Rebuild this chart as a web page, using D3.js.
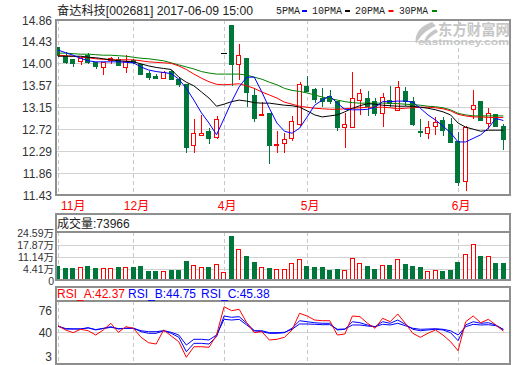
<!DOCTYPE html>
<html>
<head>
<meta charset="utf-8">
<script src="https://cdn.jsdelivr.net/npm/d3@7"></script>
<style>
  body { margin: 0; background: #fff; }
  svg { display: block; font-family: "Liberation Sans", Arial, "Noto Sans CJK SC", sans-serif; }
</style>
</head>
<body>
<div id="chart"></div>
<script>
// daily bars, 60 trading days up to 2017-06-09
const open  = [14.33,14.14,14.08,14.05,14.16,14.02,13.93,14.06,14.09,13.93,14.06,13.98,13.82,13.75,13.72,13.85,13.70,13.59,12.40,12.59,12.67,12.56,14.20,14.76,13.99,14.10,13.39,13.00,13.02,12.40,12.44,12.54,12.82,13.55,13.49,13.33,13.36,13.26,12.75,12.75,13.29,13.33,13.26,13.03,13.29,13.09,13.46,13.27,12.68,12.64,12.77,12.90,12.82,12.48,11.69,13.11,13.27,12.84,13.00,12.77];
const close = [14.17,14.02,14.00,14.10,14.03,13.95,14.02,14.10,13.97,14.04,14.02,13.80,13.74,13.72,13.84,13.70,13.59,12.36,12.64,12.64,12.53,12.91,14.20,13.98,14.17,13.44,12.92,13.01,12.40,12.42,12.51,12.88,13.59,13.46,13.31,13.27,13.27,12.75,12.81,13.33,13.41,13.16,13.03,13.34,13.23,13.54,13.26,12.82,12.67,12.76,12.85,12.69,12.46,11.67,12.76,13.19,12.89,13.03,12.78,12.52];
const high  = [14.33,14.24,14.08,14.13,14.21,14.04,14.04,14.14,14.13,14.17,14.09,14.00,13.86,13.81,13.87,13.88,13.74,13.59,12.92,13.00,12.74,12.98,14.20,14.76,14.38,14.10,13.52,13.26,13.04,12.69,12.64,12.97,13.65,13.76,13.53,13.52,13.49,13.27,13.03,13.85,13.50,13.47,13.33,13.42,13.57,13.66,13.55,13.36,12.92,12.88,12.96,12.96,12.94,12.67,12.78,13.49,13.27,13.13,13.01,12.83];
const low   = [14.13,13.99,13.93,13.98,13.99,13.90,13.79,13.99,13.95,13.82,13.99,13.78,13.68,13.70,13.70,13.68,13.55,12.25,12.25,12.59,12.42,12.52,14.20,13.57,13.68,13.15,12.87,12.97,12.03,12.26,12.26,12.49,12.78,13.46,13.23,13.16,13.21,12.69,12.36,12.75,13.00,12.98,12.98,12.76,13.15,13.08,13.18,12.78,12.57,12.52,12.61,12.59,12.46,11.61,11.51,12.91,12.89,12.72,12.78,12.31];
// volume, in 万 (10k shares)
const volume = [5.76,4.86,4.86,5.42,5.59,4.86,4.86,4.86,5.03,5.42,5.03,5.59,3.35,3.35,3.35,3.52,3.91,8.94,6.15,5.03,5.03,7.10,2.24,22.53,15.09,11.18,8.38,5.42,4.86,4.30,4.30,7.27,9.89,5.59,5.03,5.03,3.91,4.30,3.91,10.45,7.27,5.59,4.47,6.54,6.15,9.89,6.71,5.59,5.03,3.35,3.91,3.35,3.91,8.38,12.30,17.89,11.18,11.18,7.40,7.3966];

const ma5  = [14.27,14.22,14.17,14.11,14.06,14.04,14.04,14.04,14.04,14.03,14.02,13.94,13.88,13.85,13.83,13.81,13.70,13.52,13.29,13.04,12.84,12.61,12.93,13.26,13.55,13.74,13.74,13.45,13.13,12.84,12.68,12.64,12.74,12.96,13.19,13.29,13.37,13.23,13.11,13.10,13.10,13.11,13.15,13.26,13.26,13.27,13.27,13.25,13.13,13.00,12.90,12.78,12.65,12.47,12.47,12.54,12.61,12.74,12.93,12.89];
const ma10 = [14.15,14.15,14.15,14.15,14.13,14.12,14.10,14.08,14.06,14.05,14.04,14.00,13.96,13.93,13.91,13.89,13.74,13.64,13.57,13.45,13.33,13.17,13.21,13.26,13.29,13.27,13.24,13.23,13.23,13.21,13.19,13.18,13.15,13.08,13.00,12.96,12.98,13.00,13.06,13.13,13.18,13.22,13.21,13.19,13.18,13.17,13.17,13.17,13.15,13.13,13.10,13.06,13.00,12.84,12.76,12.72,12.68,12.70,12.70,12.70];
const ma20 = [14.17,14.16,14.15,14.13,14.12,14.10,14.09,14.08,14.08,14.08,14.08,14.06,14.04,14.03,14.02,14.01,13.96,13.89,13.80,13.72,13.65,13.60,13.59,13.60,13.61,13.57,13.52,13.45,13.39,13.33,13.25,13.21,13.17,13.15,13.13,13.12,13.11,13.11,13.12,13.13,13.14,13.15,13.15,13.15,13.14,13.12,13.13,13.14,13.15,13.15,13.14,13.12,13.08,13.01,12.98,12.96,12.96,12.95,12.95,12.95];
const ma30 = [14.21,14.21,14.20,14.19,14.19,14.18,14.17,14.17,14.16,14.15,14.13,14.11,14.10,14.08,14.06,14.02,13.98,13.94,13.90,13.85,13.82,13.80,13.80,13.80,13.80,13.78,13.74,13.70,13.64,13.59,13.52,13.48,13.46,13.43,13.39,13.35,13.32,13.29,13.26,13.24,13.23,13.23,13.23,13.23,13.23,13.22,13.21,13.20,13.19,13.17,13.16,13.14,13.10,13.03,13.00,12.98,12.98,12.98,12.98,12.98];

const rsiA = [51.1,44.3,40.0,45.4,43.1,36.3,44.3,54.9,40.6,49.5,47.0,32.7,24.1,22.0,44.3,34.7,25.7,1.0,17.7,17.7,16.8,36.3,81.2,74.9,77.1,55.8,40.0,41.6,28.4,29.5,32.7,44.3,70.8,66.5,60.1,59.0,59.0,36.3,37.9,66.5,65.4,54.9,47.0,62.8,57.4,69.7,54.9,39.0,32.7,39.0,44.3,36.3,25.7,11.4,57.4,66.5,55.8,61.2,52.2,42.37];
const rsiB = [50.1,45.8,45.8,45.8,47.9,44.3,47.0,49.5,45.8,47.0,47.0,41.6,39.0,39.0,43.1,39.0,32.7,9.8,23.1,23.1,22.0,33.6,66.5,64.4,65.4,54.9,43.1,41.6,39.0,39.0,40.0,47.0,59.0,57.4,55.8,54.9,54.9,44.3,45.4,57.4,55.8,52.2,49.5,57.4,54.9,60.1,53.3,45.4,43.1,44.3,45.4,44.3,40.0,27.3,52.2,57.4,54.9,55.8,52.2,44.75];
const rsiC = [50.5,46.5,46.0,46.0,47.5,45.0,46.5,48.5,46.5,47.0,47.0,43.1,41.6,41.6,43.1,40.6,36.3,20.4,29.5,29.5,28.4,36.3,61.2,60.1,61.2,52.2,43.1,43.1,40.0,40.0,40.6,45.4,53.8,53.8,53.3,52.7,52.7,45.4,45.8,52.2,52.2,50.6,49.5,53.3,52.2,54.9,51.1,47.0,45.4,45.8,46.3,45.4,43.1,36.3,49.5,53.3,52.2,52.7,51.1,45.38];

const priceTicks = [14.86, 14.43, 14.00, 13.57, 13.15, 12.72, 12.29, 11.86, 11.43];
const volTicks = [24.59, 17.87, 11.14, 4.41];
const rsiTicks = [76, 40, 3];
const months = [['11月', 0], ['12月', 10], ['4月', 22], ['5月', 33], ['6月', 53]];
const maSeries = [['30PMA', ma30, '#008000'], ['20PMA', ma20, '#ff0000'], ['10PMA', ma10, '#000000'], ['5PMA', ma5, '#0000ff']];

const RED = '#ff0000', GREEN = '#00773a', FRAME = '#8e8e8e', GRID = '#d2d2d2';
const L = 56, R = 510;
const pm = { t: 20, b: 195 };
const pv = { top: 214, t: 232, b: 280 };
const pr = { top: 287, t: 301, b: 364 };

const svg = d3.select('#chart').append('svg').attr('width', 520).attr('height', 365);

const idx = d3.range(open.length);
const x = d3.scalePoint().domain(idx).range([58, 503.4]);
const y = d3.scaleLinear().domain([11.43, 14.86]).range([pm.b, pm.t]);
const yv = d3.scaleLinear().domain([0, 24.59]).range([277, 233]);
const yr = d3.scaleLinear().domain([3, 76]).range([356, 310]);

// grid
const grid = svg.append('g').attr('shape-rendering', 'crispEdges');
grid.selectAll('.hp').data(priceTicks.slice(1, -1)).enter().append('line')
  .attr('x1', L).attr('x2', R).attr('y1', d => y(d)).attr('y2', d => y(d))
  .attr('stroke', GRID);
grid.selectAll('.hv').data(volTicks.slice(1)).enter().append('line')
  .attr('x1', L).attr('x2', R).attr('y1', d => yv(d)).attr('y2', d => yv(d))
  .attr('stroke', GRID);
grid.append('line').attr('x1', L).attr('x2', R).attr('y1', yr(40)).attr('y2', yr(40)).attr('stroke', GRID);
[[pm.t, pm.b], [pv.t, pv.b], [pr.t, pr.b]].forEach(([t, b]) => {
  grid.selectAll(null).data(months).enter().append('line')
    .attr('x1', d => Math.round(x(d[1])) + 0.5).attr('x2', d => Math.round(x(d[1])) + 0.5)
    .attr('y1', t).attr('y2', b)
    .attr('stroke', '#c8c8c8').attr('stroke-dasharray', '4,3');
});

// candles
const bw = 5.4;
const cg = svg.append('g').attr('shape-rendering', 'crispEdges');
const c = cg.selectAll('g').data(idx).enter().append('g');
c.append('line')
  .attr('x1', i => Math.round(x(i)) + 0.5).attr('x2', i => Math.round(x(i)) + 0.5)
  .attr('y1', i => y(high[i])).attr('y2', i => y(low[i]))
  .attr('stroke', i => close[i] === open[i] ? '#000' : close[i] > open[i] ? RED : GREEN);
c.filter(i => close[i] !== open[i]).append('rect')
  .attr('x', i => Math.round(x(i) - bw / 2) + 0.5)
  .attr('y', i => y(Math.max(open[i], close[i])))
  .attr('width', bw - 1)
  .attr('height', i => Math.max(1, y(Math.min(open[i], close[i])) - y(Math.max(open[i], close[i]))))
  .attr('fill', i => close[i] > open[i] ? '#fff' : GREEN)
  .attr('stroke', i => close[i] > open[i] ? RED : GREEN);
c.filter(i => close[i] === open[i]).append('line')
  .attr('x1', i => x(i) - 3).attr('x2', i => x(i) + 3)
  .attr('y1', i => y(open[i])).attr('y2', i => y(open[i]))
  .attr('stroke', '#000').attr('stroke-width', 1.2);

// moving averages
svg.append('clipPath').attr('id', 'cm').append('rect').attr('x', L).attr('y', pm.t).attr('width', R - L).attr('height', pm.b - pm.t);
const maLine = d3.line().x((d, i) => x(i)).y(d => y(d));
svg.append('g').attr('clip-path', 'url(#cm)').selectAll('path').data(maSeries).enter().append('path')
  .attr('d', d => maLine(d[1])).attr('fill', 'none').attr('stroke', d => d[2]).attr('stroke-width', 1);

// volume bars
svg.append('g').attr('shape-rendering', 'crispEdges').selectAll('rect').data(idx).enter().append('rect')
  .attr('x', i => Math.round(x(i) - bw / 2) + 0.5)
  .attr('y', i => yv(volume[i]))
  .attr('width', bw - 1)
  .attr('height', i => pv.b - yv(volume[i]))
  .attr('fill', i => close[i] >= open[i] ? '#fff' : GREEN)
  .attr('stroke', i => close[i] >= open[i] ? RED : GREEN);

// RSI
svg.append('clipPath').attr('id', 'cr').append('rect').attr('x', L).attr('y', pr.t).attr('width', R - L).attr('height', pr.b - pr.t);
const rLine = d3.line().x((d, i) => x(i)).y(d => yr(d));
svg.append('g').attr('clip-path', 'url(#cr)').selectAll('path')
  .data([[rsiC, '#0000ff'], [rsiB, '#0000ff'], [rsiA, '#ff0000']]).enter().append('path')
  .attr('d', d => rLine(d[0])).attr('fill', 'none').attr('stroke', d => d[1]).attr('stroke-width', 1);

// frames
const fr = svg.append('g').attr('fill', 'none').attr('stroke', FRAME).attr('stroke-width', 1.5).attr('shape-rendering', 'crispEdges');
fr.append('rect').attr('x', L).attr('y', pm.t).attr('width', R - L).attr('height', pm.b - pm.t);
fr.append('rect').attr('x', L).attr('y', pv.top).attr('width', R - L).attr('height', pv.b - pv.top);
fr.append('line').attr('x1', L).attr('x2', R).attr('y1', pv.t).attr('y2', pv.t);
fr.append('rect').attr('x', L).attr('y', pr.top).attr('width', R - L).attr('height', pr.b - pr.top);
fr.append('line').attr('x1', L).attr('x2', R).attr('y1', pr.t).attr('y2', pr.t);

// axis labels
const lab = svg.append('g').attr('fill', '#333').attr('text-anchor', 'end');
lab.selectAll('.p').data(priceTicks).enter().append('text').attr('font-size', 12)
  .attr('x', 52).attr('y', d => y(d) + 4.5).text(d => d.toFixed(2));
lab.selectAll('.v').data(volTicks).enter().append('text').attr('font-size', 10.5)
  .attr('x', 54).attr('y', d => yv(d) + 4).text(d => d.toFixed(2) + '万');
lab.append('text').attr('font-size', 10.5).attr('x', 54).attr('y', pv.b + 5).text('0');
lab.selectAll('.r').data(rsiTicks).enter().append('text').attr('font-size', 12)
  .attr('x', 52).attr('y', d => yr(d) + 4.5).text(d => d);

svg.append('g').attr('font-size', 12).attr('fill', RED).selectAll('text').data(months).enter().append('text')
  .attr('x', d => Math.max(60, x(d[1]) + 3)).attr('y', 210)
  .attr('text-anchor', d => d[1] === 0 ? 'start' : 'middle').text(d => d[0]);

// headers
svg.append('text').attr('x', 57).attr('y', 15).attr('font-size', 12).attr('fill', '#222')
  .attr('textLength', 196).attr('lengthAdjust', 'spacingAndGlyphs').text('奋达科技[002681] 2017-06-09 15:00');

const legend = [['5PMA', 276, 24, '#0000ff', 302], ['10PMA', 312, 30, '#000000', 345], ['20PMA', 355, 30, '#ff0000', 388.5], ['30PMA', 399, 29, '#008000', 432]];
const lg = svg.append('g');
lg.selectAll('text').data(legend).enter().append('text')
  .attr('x', d => d[1]).attr('y', 14).attr('font-size', 11).attr('fill', '#222')
  .attr('font-family', '"Liberation Mono", "DejaVu Sans Mono", monospace')
  .attr('textLength', d => d[2]).attr('lengthAdjust', 'spacingAndGlyphs').text(d => d[0]);
lg.selectAll('rect').data(legend).enter().append('rect')
  .attr('x', d => d[4]).attr('y', 10).attr('width', 5).attr('height', 2).attr('fill', d => d[3]);

svg.append('text').attr('x', 57).attr('y', 228).attr('font-size', 12).attr('fill', '#222')
  .text('成交量:' + Math.round(volume[volume.length - 1] * 10000));

const rsiHead = [['RSI_A', rsiA, RED, 57], ['RSI_B', rsiB, '#0000ff', 128], ['RSI_C', rsiC, '#0000ff', 201]];
svg.append('g').selectAll('text').data(rsiHead).enter().append('text')
  .attr('x', d => d[3]).attr('y', 298).attr('font-size', 12).attr('fill', d => d[2])
  .text(d => d[0] + ':' + d[1][d[1].length - 1].toFixed(2));

// watermark
const wm = svg.append('g').attr('fill', '#c6c6c6');
wm.append('path').attr('d', 'M432,22 C420,26 414,34 416,44 C420,36 426,30 436,26 Z M436,29 C428,33 424,38 424,44 C428,39 432,35 438,32 Z');
wm.append('text').attr('x', 438).attr('y', 35).attr('font-size', 15).attr('font-weight', 'bold')
  .attr('textLength', 72).attr('lengthAdjust', 'spacingAndGlyphs').text('东方财富网');
wm.append('text').attr('x', 418).attr('y', 45).attr('font-size', 9).attr('font-weight', 'bold')
  .attr('textLength', 91).attr('lengthAdjust', 'spacingAndGlyphs').text('eastmoney.com');
</script>
</body>
</html>
